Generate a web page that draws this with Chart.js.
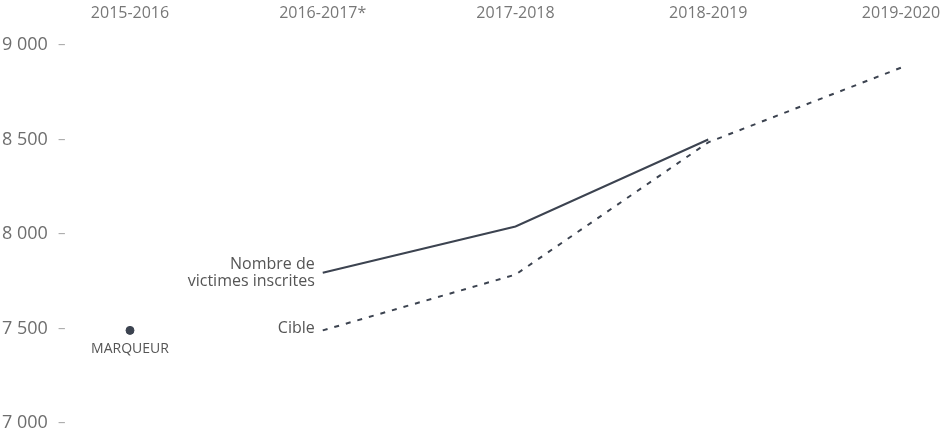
<!DOCTYPE html>
<html>
<head>
<meta charset="utf-8">
<script src="https://cdn.jsdelivr.net/npm/chart.js@4"></script>
<style>
  body { margin: 0; background: #fff; }
  .div_chart { width: 943px; height: 443px; position: relative; }
</style>
</head>
<body>
<div class="div_chart"><canvas class="chart"></canvas></div>
<script>
const categories = ['2015-2016', '2016-2017*', '2017-2018', '2018-2019', '2019-2020'];
const victimes = [null, 7795, 8040, 8500, null];
const cible = [null, 7490, 7785, 8485, 8880];
const marqueur = [7490, null, null, null, null];
const yTicks = [7000, 7500, 8000, 8500, 9000];

const lineColor = '#3c4350';
const fontFamily = '"Open Sans", sans-serif';

const formatThousands = (v) => String(v).replace(/\B(?=(\d{3})+(?!\d))/g, ' ');

const labelsPlugin = {
	id: 'labels',
	afterDatasetsDraw: (chart) => {
		const ctx = chart.ctx;
		ctx.save();
		ctx.font = `16px ${fontFamily}`;
		ctx.fillStyle = '#555';
		ctx.textAlign = 'right';
		ctx.textBaseline = 'middle';
		const p1 = chart.getDatasetMeta(0).data[1];
		ctx.fillText('Nombre de', p1.x - 8, p1.y - 8);
		ctx.fillText('victimes inscrites', p1.x - 8, p1.y + 9);
		const p2 = chart.getDatasetMeta(1).data[1];
		ctx.fillText('Cible', p2.x - 8, p2.y - 2);
		const p3 = chart.getDatasetMeta(2).data[0];
		ctx.textAlign = 'center';
		ctx.font = `14px ${fontFamily}`;
		ctx.fillText('MARQUEUR', p3.x, p3.y + 19);
		// little dashes after the y tick labels
		const y = chart.scales.y;
		ctx.textAlign = 'left';
		ctx.fillStyle = '#aaa';
		ctx.font = `15px ${fontFamily}`;
		y.ticks.forEach((t) => {
			ctx.fillText('–', y.left + 56, y.getPixelForValue(t.value));
		});
		ctx.restore();
	},
};

const ctx = document.querySelector('.chart');
new Chart(ctx, {
	type: 'line',
	data: {
		labels: categories,
		datasets: [
			{
				label: 'Nombre de victimes inscrites',
				data: victimes,
				borderColor: lineColor,
				borderWidth: 2,
				pointRadius: 0,
				tension: 0,
			},
			{
				label: 'Cible',
				data: cible,
				borderColor: lineColor,
				borderWidth: 2,
				borderDash: [5, 7],
				pointRadius: 0,
				tension: 0,
			},
			{
				label: 'Marqueur',
				data: marqueur,
				showLine: false,
				pointRadius: 4,
				pointBackgroundColor: lineColor,
				pointBorderColor: lineColor,
			},
		],
	},
	options: {
		responsive: true,
		maintainAspectRatio: false,
		animation: false,
		layout: { padding: { left: 2, right: 42, top: 0, bottom: 20 } },
		plugins: {
			legend: { display: false },
			tooltip: { enabled: false },
		},
		scales: {
			x: {
				position: 'top',
				offset: false,
				grid: { display: false, drawTicks: false },
				border: { display: false },
				ticks: {
					color: '#777',
					font: { family: fontFamily, size: 16 },
					padding: 22,
					maxRotation: 0,
				},
				afterFit: (scale) => {
					scale.height = 45;
					scale.paddingLeft = 0;
					scale.paddingRight = 0;
				},
			},
			y: {
				min: 7000,
				max: 9000,
				grid: { display: false, drawTicks: false },
				border: { display: false },
				afterBuildTicks: (scale) => {
					scale.ticks = yTicks.map((v) => ({ value: v }));
				},
				ticks: {
					color: '#6e6e6e',
					crossAlign: 'far',
					font: { family: fontFamily, size: 18 },
					callback: (v) => formatThousands(v),
				},
				afterFit: (scale) => {
					scale.width = 128;
					scale.paddingTop = 0;
					scale.paddingBottom = 0;
				},
			},
		},
	},
	plugins: [labelsPlugin],
});
</script>
</body>
</html>
